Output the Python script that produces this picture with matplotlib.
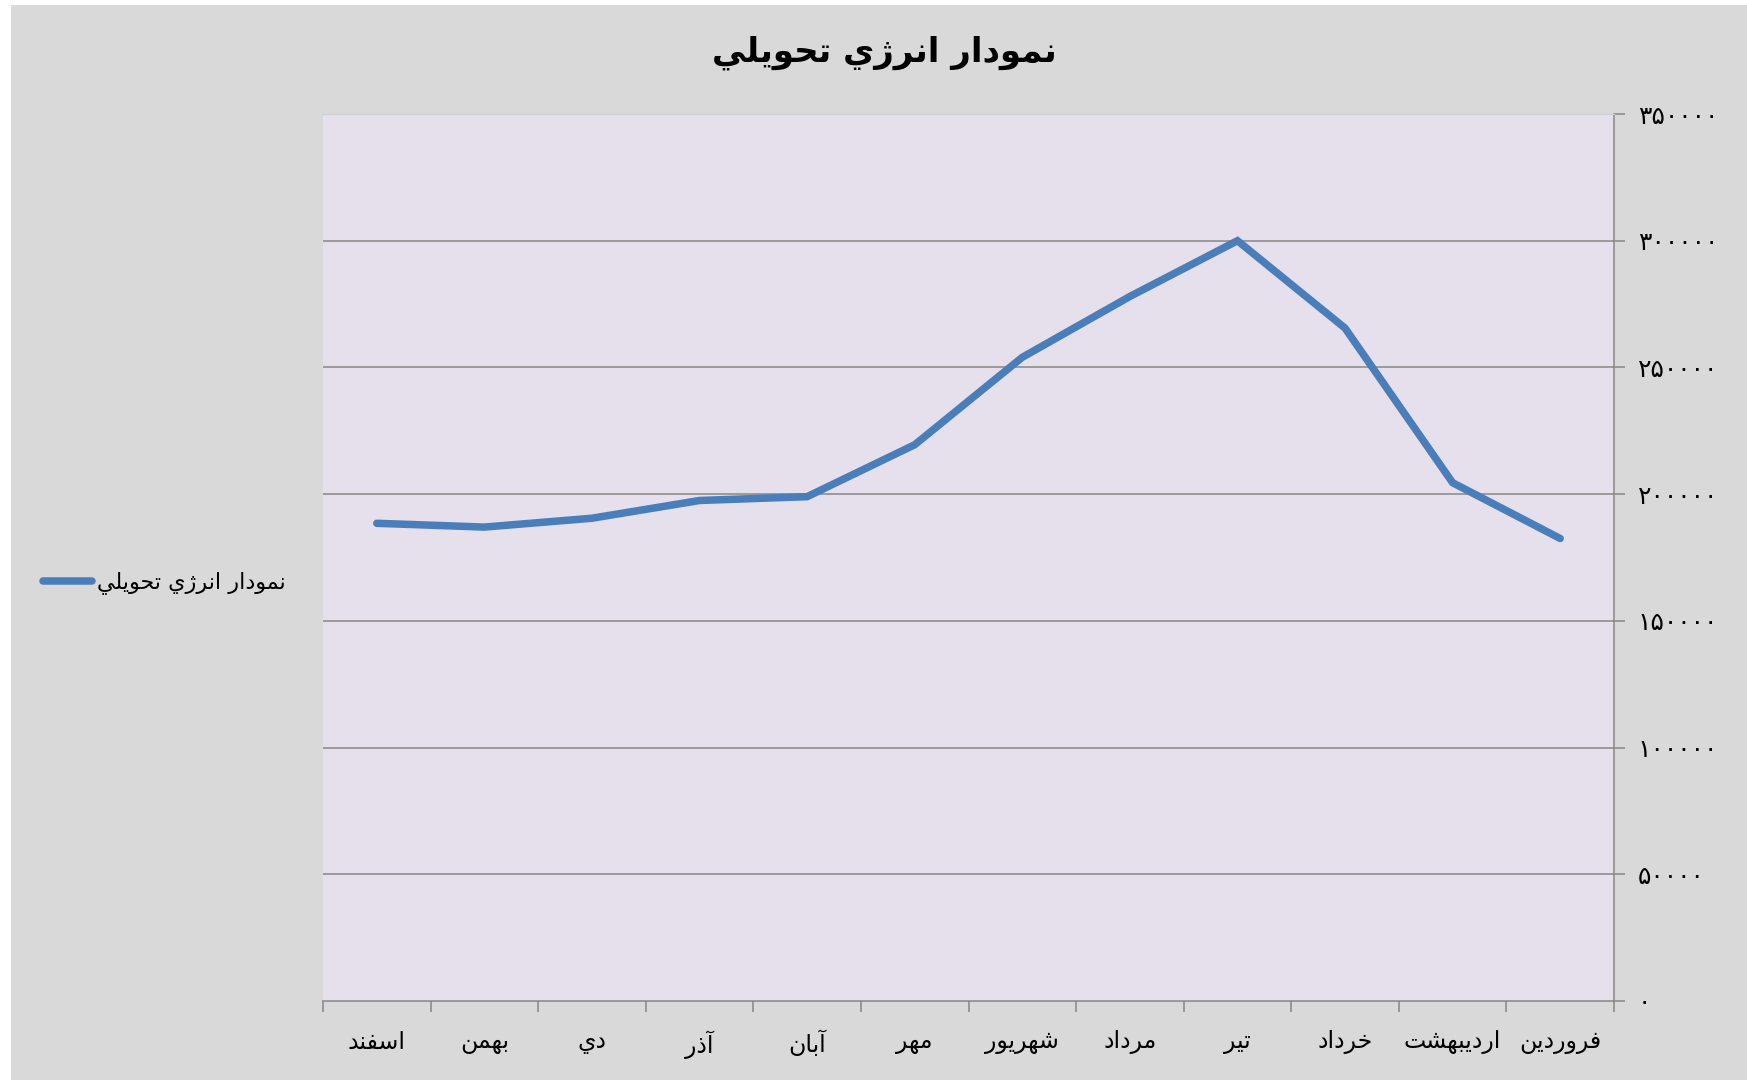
import matplotlib
matplotlib.use("Agg")
import matplotlib.pyplot as plt
from matplotlib.patches import Rectangle
from matplotlib.ticker import FixedLocator, FuncFormatter

# ---------------- data ----------------
title_text = "نمودار انرژي تحويلي"
series_name = "نمودار انرژي تحويلي"
months = ["اسفند", "بهمن", "دي", "آذر", "آبان", "مهر",
          "شهريور", "مرداد", "تير", "خرداد", "ارديبهشت", "فروردين"]
values = [188500, 187000, 190500, 197500, 199000, 219500,
          254000, 278000, 300000, 265500, 204500, 182500]
y_ticks = [0, 50000, 100000, 150000, 200000, 250000, 300000, 350000]

# ---------------- minimal Arabic shaping ----------------
FORMS = {
    'ا': ('\uFE8D', '\uFE8E'), 'آ': ('\uFE81', '\uFE82'),
    'ب': ('\uFE8F', '\uFE90', '\uFE91', '\uFE92'),
    'ت': ('\uFE95', '\uFE96', '\uFE97', '\uFE98'),
    'ح': ('\uFEA1', '\uFEA2', '\uFEA3', '\uFEA4'),
    'خ': ('\uFEA5', '\uFEA6', '\uFEA7', '\uFEA8'),
    'د': ('\uFEA9', '\uFEAA'), 'ذ': ('\uFEAB', '\uFEAC'),
    'ر': ('\uFEAD', '\uFEAE'), 'ز': ('\uFEAF', '\uFEB0'),
    'ژ': ('\u0698', '\uFB8B'),
    'س': ('\uFEB1', '\uFEB2', '\uFEB3', '\uFEB4'),
    'ش': ('\uFEB5', '\uFEB6', '\uFEB7', '\uFEB8'),
    'ف': ('\uFED1', '\uFED2', '\uFED3', '\uFED4'),
    'ل': ('\uFEDD', '\uFEDE', '\uFEDF', '\uFEE0'),
    'م': ('\uFEE1', '\uFEE2', '\uFEE3', '\uFEE4'),
    'ن': ('\uFEE5', '\uFEE6', '\uFEE7', '\uFEE8'),
    'ه': ('\uFEE9', '\uFEEA', '\uFEEB', '\uFEEC'),
    'و': ('\uFEED', '\uFEEE'),
    'ي': ('\uFEF1', '\uFEF2', '\uFEF3', '\uFEF4'),
}


def shape(text):
    out = []
    n = len(text)
    for i, ch in enumerate(text):
        f = FORMS.get(ch)
        if f is None:
            out.append(ch)
            continue
        prev = text[i - 1] if i > 0 else None
        nxt = text[i + 1] if i < n - 1 else None
        jp = prev is not None and prev in FORMS and len(FORMS[prev]) == 4
        jn = len(f) == 4 and nxt is not None and nxt in FORMS
        if jp and jn:
            out.append(f[3])
        elif jp:
            out.append(f[1])
        elif jn:
            out.append(f[2])
        else:
            out.append(f[0])
    return "".join(out)[::-1]


PERSIAN_DIGITS = str.maketrans("0123456789", "۰۱۲۳۴۵۶۷۸۹")


def fa_num(v, pos=None):
    return str(int(round(v))).translate(PERSIAN_DIGITS)


# ---------------- figure ----------------
W, H = 1747, 1080
fig = plt.figure(figsize=(W / 100, H / 100), dpi=100)
fig.patch.set_facecolor("white")
fig.patches.append(Rectangle((11 / W, 0), 1 - 11 / W, 1 - 5 / H,
                             transform=fig.transFigure, facecolor="#d9d9d9",
                             edgecolor="none", zorder=-10))

font = "DejaVu Sans"
grid_c = "#868686"

ax = fig.add_axes([323 / W, 1 - 1001 / H, (1614 - 323) / W, (1001 - 114) / H])
ax.set_facecolor("#e6e0ec")

x = list(range(len(months)))
ax.plot(x, values, color="#4a7ebb", lw=5.4, solid_capstyle="round",
        solid_joinstyle="miter", label=shape(series_name), zorder=3)

ax.set_xlim(-0.5, len(months) - 0.5)
ax.set_ylim(y_ticks[0], y_ticks[-1])

# grid
for t in y_ticks[1:-1]:
    ax.axhline(t, color=grid_c, lw=1.1, zorder=1)

# spines
ax.spines["left"].set_visible(False)
ax.spines["top"].set_color("#cfcfcf")
ax.spines["top"].set_linewidth(1.0)
ax.spines["right"].set_color(grid_c)
ax.spines["right"].set_linewidth(1.1)
ax.spines["bottom"].set_color(grid_c)
ax.spines["bottom"].set_linewidth(1.1)

# y axis on right
ax.yaxis.tick_right()
ax.yaxis.set_major_locator(FixedLocator(y_ticks))
ax.yaxis.set_major_formatter(FuncFormatter(fa_num))
ax.tick_params(axis="y", which="major", direction="out", length=8, width=1.1,
               color=grid_c, pad=9, labelsize=18, labelcolor="black")
for lab in ax.get_yticklabels():
    lab.set_fontfamily(font)

# x axis
ax.set_xticks(x)
ax.set_xticklabels([shape(m) for m in months], fontfamily=font)
ax.set_xticks([i - 0.5 for i in range(len(months) + 1)], minor=True)
ax.tick_params(axis="x", which="major", length=0, pad=21, labelsize=17,
               labelcolor="black")
ax.tick_params(axis="x", which="minor", direction="out", length=8, width=1.1,
               color=grid_c)

# title
fig.text(884 / W, 1 - 53 / H, shape(title_text), ha="center", va="center",
         fontsize=24.5, fontweight="bold", fontfamily=font, color="black")

# legend
leg = ax.legend(loc="center left", bbox_to_anchor=(43 / W, 1 - 583 / H),
                bbox_transform=fig.transFigure, frameon=False, borderpad=0,
                borderaxespad=0, handlelength=2.2, handletextpad=0.25,
                prop={"family": font, "size": 16})

fig.savefig("out.png", dpi=100, facecolor=fig.get_facecolor())
